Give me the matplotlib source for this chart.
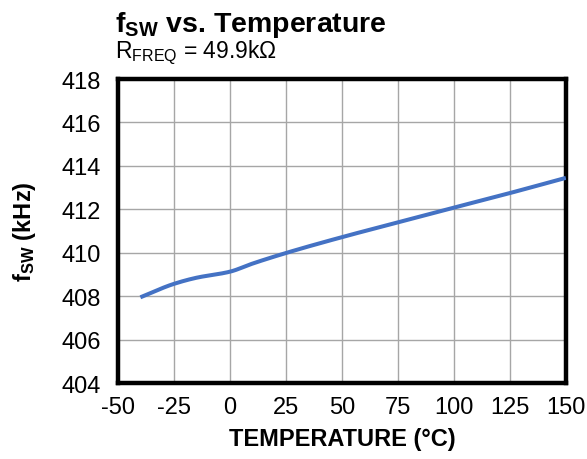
import matplotlib
matplotlib.use("Agg")
import matplotlib.pyplot as plt
import numpy as np

plt.rcParams['font.family'] = ['Liberation Sans', 'DejaVu Sans']
plt.rcParams['axes.unicode_minus'] = False
plt.rcParams['mathtext.fontset'] = 'custom'
plt.rcParams['mathtext.rm'] = 'Liberation Sans'
plt.rcParams['mathtext.bf'] = 'Liberation Sans:bold'
plt.rcParams['mathtext.it'] = 'Liberation Sans:italic'

# switching frequency vs temperature, RFREQ = 49.9k
temps = [-40, -25, -15, 0, 10, 25, 50, 75, 100, 125, 150]
fsw = [407.95, 408.57, 408.85, 409.13, 409.5, 409.99, 410.72, 411.4, 412.08, 412.75, 413.45]

xticks = [-50, -25, 0, 25, 50, 75, 100, 125, 150]
yticks = [404, 406, 408, 410, 412, 414, 416, 418]

fig = plt.figure(figsize=(5.87, 4.6), dpi=100)
ax = fig.add_axes([0.201, 0.165, 0.763, 0.661])

# smooth the line a bit with a monotone cubic through the points
x = np.array(temps, float)
y = np.array(fsw, float)
h = np.diff(x)
d = np.diff(y) / h
m = np.zeros_like(y)
m[0], m[-1] = d[0], d[-1]
for i in range(1, len(x) - 1):
    if d[i-1] * d[i] > 0:
        w1 = 2*h[i] + h[i-1]
        w2 = h[i] + 2*h[i-1]
        m[i] = (w1 + w2) / (w1/d[i-1] + w2/d[i])
xs, ys = [], []
for i in range(len(x) - 1):
    t = np.linspace(0, 1, 30)
    h00 = 2*t**3 - 3*t**2 + 1
    h10 = t**3 - 2*t**2 + t
    h01 = -2*t**3 + 3*t**2
    h11 = t**3 - t**2
    xs.extend(x[i] + t*h[i])
    ys.extend(h00*y[i] + h10*h[i]*m[i] + h01*y[i+1] + h11*h[i]*m[i+1])

ax.plot(xs, ys, color='#4472C4', lw=2.9, solid_capstyle='butt', zorder=3)

ax.set_xlim(-50, 150)
ax.set_ylim(404, 418)
ax.set_xticks(xticks)
ax.set_yticks(yticks)
ax.grid(True, color='#a6a6a6', lw=1.0)
ax.tick_params(length=0, labelsize=17)
ax.tick_params(axis='x', pad=9)
ax.tick_params(axis='y', pad=12)
for s in ax.spines.values():
    s.set_linewidth(3.2)
    s.set_color('black')

ax.set_xlabel('TEMPERATURE (°C)', fontsize=17, fontweight='bold', labelpad=7)
ax.set_ylabel(r'f$_{\mathbf{SW}}$ (kHz)', fontsize=17, fontweight='bold', labelpad=17)

fig.text(0.196, 0.93, r'f$_{\mathbf{SW}}$ vs. Temperature', fontsize=20.5, fontweight='bold', ha='left')
fig.text(0.196, 0.873, r'R$_{\mathrm{FREQ}}$ = 49.9k$\Omega$', fontsize=16.5, ha='left')

fig.savefig('out.png', dpi=100)
